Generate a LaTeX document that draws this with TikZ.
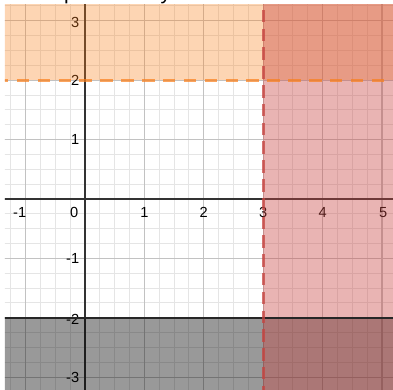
\documentclass[tikz,border=0pt]{standalone}
\usepackage{fontspec}
\setmainfont{Liberation Sans}
\definecolor{dorange}{HTML}{FA7E19}
\definecolor{dred}{HTML}{C74440}
\begin{document}
\begin{tikzpicture}[x=1cm,y=1cm,
  lbl/.style={font=\fontsize{7}{8}\selectfont, inner sep=0pt, text=black},
  xlbl/.style={lbl, anchor=center},
  ylbl/.style={lbl, anchor=east},
  minorgrid/.style={draw=black!10, line width=0.45pt},
  majorgrid/.style={draw=black!24, line width=0.65pt},
  axisline/.style={draw=black!80, line width=0.8pt},
  orangefill/.style={fill=dorange, opacity=0.33},
  redfill/.style={fill=dred, opacity=0.4},
  grayfill/.style={fill=black, opacity=0.4},
  orangeline/.style={draw=dorange, opacity=0.7, line width=1.3pt, dash pattern=on 6pt off 4pt},
  redline/.style={draw=dred, opacity=0.75, line width=1.3pt, dash pattern=on 6pt off 3pt},
  blackline/.style={draw=black!85, line width=1pt},
  toptext/.style={font=\fontsize{10}{12}\selectfont, inner sep=0pt}
]
\useasboundingbox (-1.431,-3.199) rectangle (5.185,3.350);
% clipped fragments of text above the plot
\begin{scope}
  \clip (-1.431,3.266) rectangle (5.185,3.350);
  \node[toptext, anchor=base west] (tp) at (-0.36,3.36) {p};
  \node[toptext, anchor=base] (ty) at (1.36,3.36) {y};
\end{scope}
\begin{scope}
  \clip (-1.347,-3.199) rectangle (5.185,3.266);
  \draw[minorgrid, step=0.25] (-1.5,-3.5) grid (5.5,3.5);
  \draw[majorgrid, step=1] (-2,-4) grid (6,4);
  \draw[axisline] (-1.5,0) -- (5.5,0);
  \draw[axisline] (0,-3.5) -- (0,3.5);
  % tick labels
  \node[xlbl] (xm1) at (-1.10,-0.22) {-1};
  \node[xlbl] (x0) at (-0.18,-0.22) {0};
  \node[xlbl] (x1) at (1.0,-0.22) {1};
  \node[xlbl] (x2) at (2.0,-0.22) {2};
  \node[xlbl] (x3) at (3.0,-0.22) {3};
  \node[xlbl] (x4) at (4.0,-0.22) {4};
  \node[xlbl] (x5) at (5.02,-0.22) {5};
  \node[ylbl] (y3) at (-0.09,2.97) {3};
  \node[ylbl] (y2) at (-0.09,2.0) {2};
  \node[ylbl] (y1) at (-0.09,1.0) {1};
  \node[ylbl] (ym1) at (-0.09,-1.0) {-1};
  \node[ylbl] (ym2) at (-0.09,-2.03) {-2};
  \node[ylbl] (ym3) at (-0.09,-3.0) {-3};
  % shaded regions
  \fill[orangefill] (-1.5,2) rectangle (5.5,3.5);
  \fill[grayfill] (-1.5,-3.5) rectangle (5.5,-2);
  \fill[redfill] (3,-3.5) rectangle (5.5,3.5);
  % boundary lines
  \draw[orangeline] (-1.5,2) -- (5.5,2);
  \draw[blackline] (-1.5,-2) -- (5.5,-2);
  \draw[redline] (3,3.5) -- (3,-3.5);
\end{scope}
\end{tikzpicture}
\end{document}
